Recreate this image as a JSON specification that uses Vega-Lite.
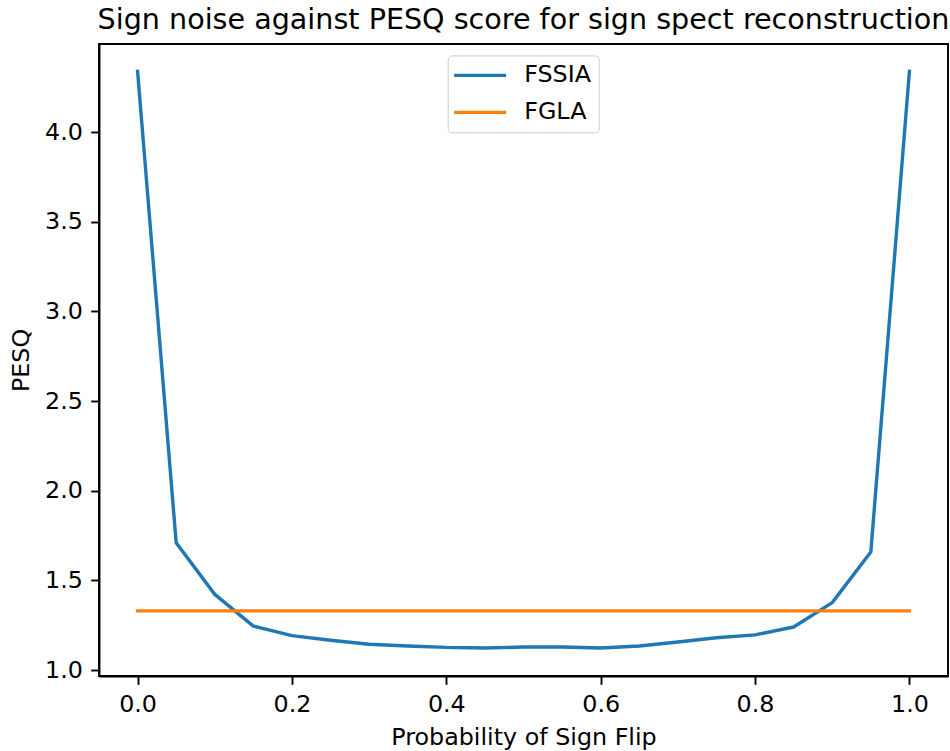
{
  "$schema": "https://vega.github.io/schema/vega-lite/v6.json",
  "autosize": {"type": "none"},
  "padding": {"left": 99, "top": 44, "right": 2, "bottom": 75},
  "width": 849,
  "height": 632,
  "background": "white",
  "title": {
    "text": "Sign noise against PESQ score for sign spect reconstruction",
    "font": "DejaVu Sans",
    "fontSize": 28.6,
    "fontWeight": "normal",
    "color": "black",
    "anchor": "middle",
    "frame": "group",
    "offset": 9
  },
  "data": {
    "values": [
      {"p": 0.00, "pesq": 4.339, "method": "FSSIA"},
      {"p": 0.05, "pesq": 1.710, "method": "FSSIA"},
      {"p": 0.10, "pesq": 1.422, "method": "FSSIA"},
      {"p": 0.15, "pesq": 1.245, "method": "FSSIA"},
      {"p": 0.20, "pesq": 1.192, "method": "FSSIA"},
      {"p": 0.25, "pesq": 1.166, "method": "FSSIA"},
      {"p": 0.30, "pesq": 1.144, "method": "FSSIA"},
      {"p": 0.35, "pesq": 1.134, "method": "FSSIA"},
      {"p": 0.40, "pesq": 1.126, "method": "FSSIA"},
      {"p": 0.45, "pesq": 1.123, "method": "FSSIA"},
      {"p": 0.50, "pesq": 1.128, "method": "FSSIA"},
      {"p": 0.55, "pesq": 1.128, "method": "FSSIA"},
      {"p": 0.60, "pesq": 1.123, "method": "FSSIA"},
      {"p": 0.65, "pesq": 1.134, "method": "FSSIA"},
      {"p": 0.70, "pesq": 1.156, "method": "FSSIA"},
      {"p": 0.75, "pesq": 1.180, "method": "FSSIA"},
      {"p": 0.80, "pesq": 1.196, "method": "FSSIA"},
      {"p": 0.85, "pesq": 1.240, "method": "FSSIA"},
      {"p": 0.90, "pesq": 1.376, "method": "FSSIA"},
      {"p": 0.95, "pesq": 1.658, "method": "FSSIA"},
      {"p": 1.00, "pesq": 4.339, "method": "FSSIA"},
      {"p": 0.00, "pesq": 1.330, "method": "FGLA"},
      {"p": 1.00, "pesq": 1.330, "method": "FGLA"}
    ]
  },
  "mark": {"type": "line", "strokeWidth": 3.4, "strokeCap": "square", "strokeJoin": "round"},
  "encoding": {
    "x": {
      "field": "p",
      "type": "quantitative",
      "title": "Probability of Sign Flip",
      "scale": {"domain": [-0.05, 1.05], "nice": false, "zero": false},
      "axis": {"values": [0, 0.2, 0.4, 0.6, 0.8, 1.0], "format": ".1f", "titlePadding": 9}
    },
    "y": {
      "field": "pesq",
      "type": "quantitative",
      "title": "PESQ",
      "scale": {"domain": [0.9666, 4.492], "nice": false, "zero": false},
      "axis": {"values": [1.0, 1.5, 2.0, 2.5, 3.0, 3.5, 4.0], "format": ".1f", "titlePadding": 11}
    },
    "color": {
      "field": "method",
      "type": "nominal",
      "scale": {"domain": ["FSSIA", "FGLA"], "range": ["#1f77b4", "#ff7f0e"]},
      "legend": {
        "title": null,
        "orient": "none",
        "legendX": 348.7,
        "legendY": 11.4,
        "symbolType": "M-1.3,0H3.7",
        "symbolSize": 433,
        "symbolStrokeWidth": 3.4,
        "labelOffset": 44,
        "labelFontSize": 23.8,
        "labelFont": "DejaVu Sans",
        "labelColor": "black",
        "rowPadding": 12,
        "padding": 7.5,
        "fillColor": "rgba(255,255,255,0.8)",
        "strokeColor": "#cccccc",
        "cornerRadius": 4
      }
    }
  },
  "config": {
    "view": {"stroke": "black", "strokeWidth": 1.9},
    "axis": {
      "grid": false,
      "domainColor": "black",
      "domainWidth": 1.9,
      "tickColor": "black",
      "tickWidth": 1.9,
      "tickSize": 8.3,
      "labelPadding": 8.3,
      "labelFont": "DejaVu Sans",
      "labelFontSize": 23.8,
      "labelColor": "black",
      "titleFont": "DejaVu Sans",
      "titleFontSize": 23.8,
      "titleFontWeight": "normal",
      "titleColor": "black"
    }
  }
}
